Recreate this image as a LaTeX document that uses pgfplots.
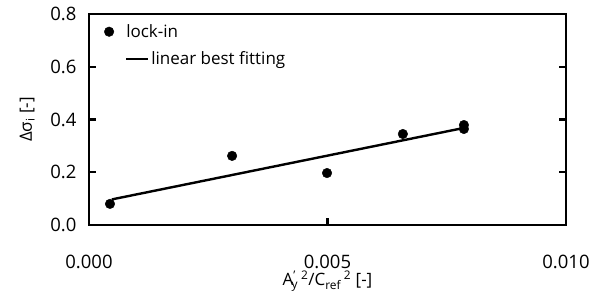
\documentclass[border=0pt]{standalone}
\usepackage{fontspec}
\setmainfont{Open Sans}
\usepackage{pgfplots}
\pgfplotsset{compat=1.18}
\newcommand{\fs}{\fontsize{17bp}{20bp}\selectfont}
\newcommand{\ft}{\fontsize{18.5bp}{21bp}\selectfont}
\begin{document}
\begin{tikzpicture}
\begin{axis}[
  name=ax,
  scale only axis,
  width=477bp, height=211bp,
  xmin=0, xmax=0.01,
  ymin=0, ymax=0.8,
  axis line style={line width=2.2bp},
  every tick/.style={black, line width=2.2bp},
  major tick length=7bp,
  tick align=inside,
  xtick={0,0.005,0.01},
  xticklabels={0.000,0.005,0.010},
  ytick={0,0.2,0.4,0.6,0.8},
  yticklabels={0.0,0.2,0.4,0.6,0.8},
  xtick pos=left,
  ytick pos=both,
  scaled x ticks=false,
  /pgf/number format/assume math mode=true,
  tick label style={font=\ft},
  xticklabel style={yshift=-27bp},
  yticklabel style={xshift=-9bp},
  xlabel={A\textsuperscript{'}\kern-0.25em\textsubscript{y}\,\textsuperscript{2}/C\textsubscript{ref}\,\textsuperscript{2} [-]},
  ylabel={Δσ\textsubscript{i} [-]},
  label style={font=\fs},
  xlabel style={yshift=5bp},
  ylabel style={yshift=9bp},
  legend style={draw=none, fill=none, font=\fs, at={(rel axis cs:0.025,0.97)}, anchor=north west,
    row sep=9bp, legend cell align=left},
  clip=false,
]
\addplot[only marks, mark=*, mark size=4.8bp, black,
  legend image code/.code={\fill[black] (-17bp,0bp) circle (4.8bp);}]
  coordinates {
  (0.00044,0.080)
  (0.00300,0.262)
  (0.00499,0.197)
  (0.00658,0.345)
  (0.00786,0.379)
  (0.00786,0.364)
};
\addlegendentry{\hspace{-25bp}lock-in}
\addplot[black, line width=2.4bp, no marks,
  legend image code/.code={\draw[black, line width=2.4bp] (0bp,0bp) -- (22bp,0bp);}]
  coordinates {(0.00048,0.097) (0.00786,0.368)};
\addlegendentry{linear best fitting}
\end{axis}
\pgfresetboundingbox
\path[use as bounding box] ([xshift=-89bp,yshift=-82bp]ax.south west) rectangle ([xshift=36bp,yshift=14bp]ax.north east);
\end{tikzpicture}
\end{document}
